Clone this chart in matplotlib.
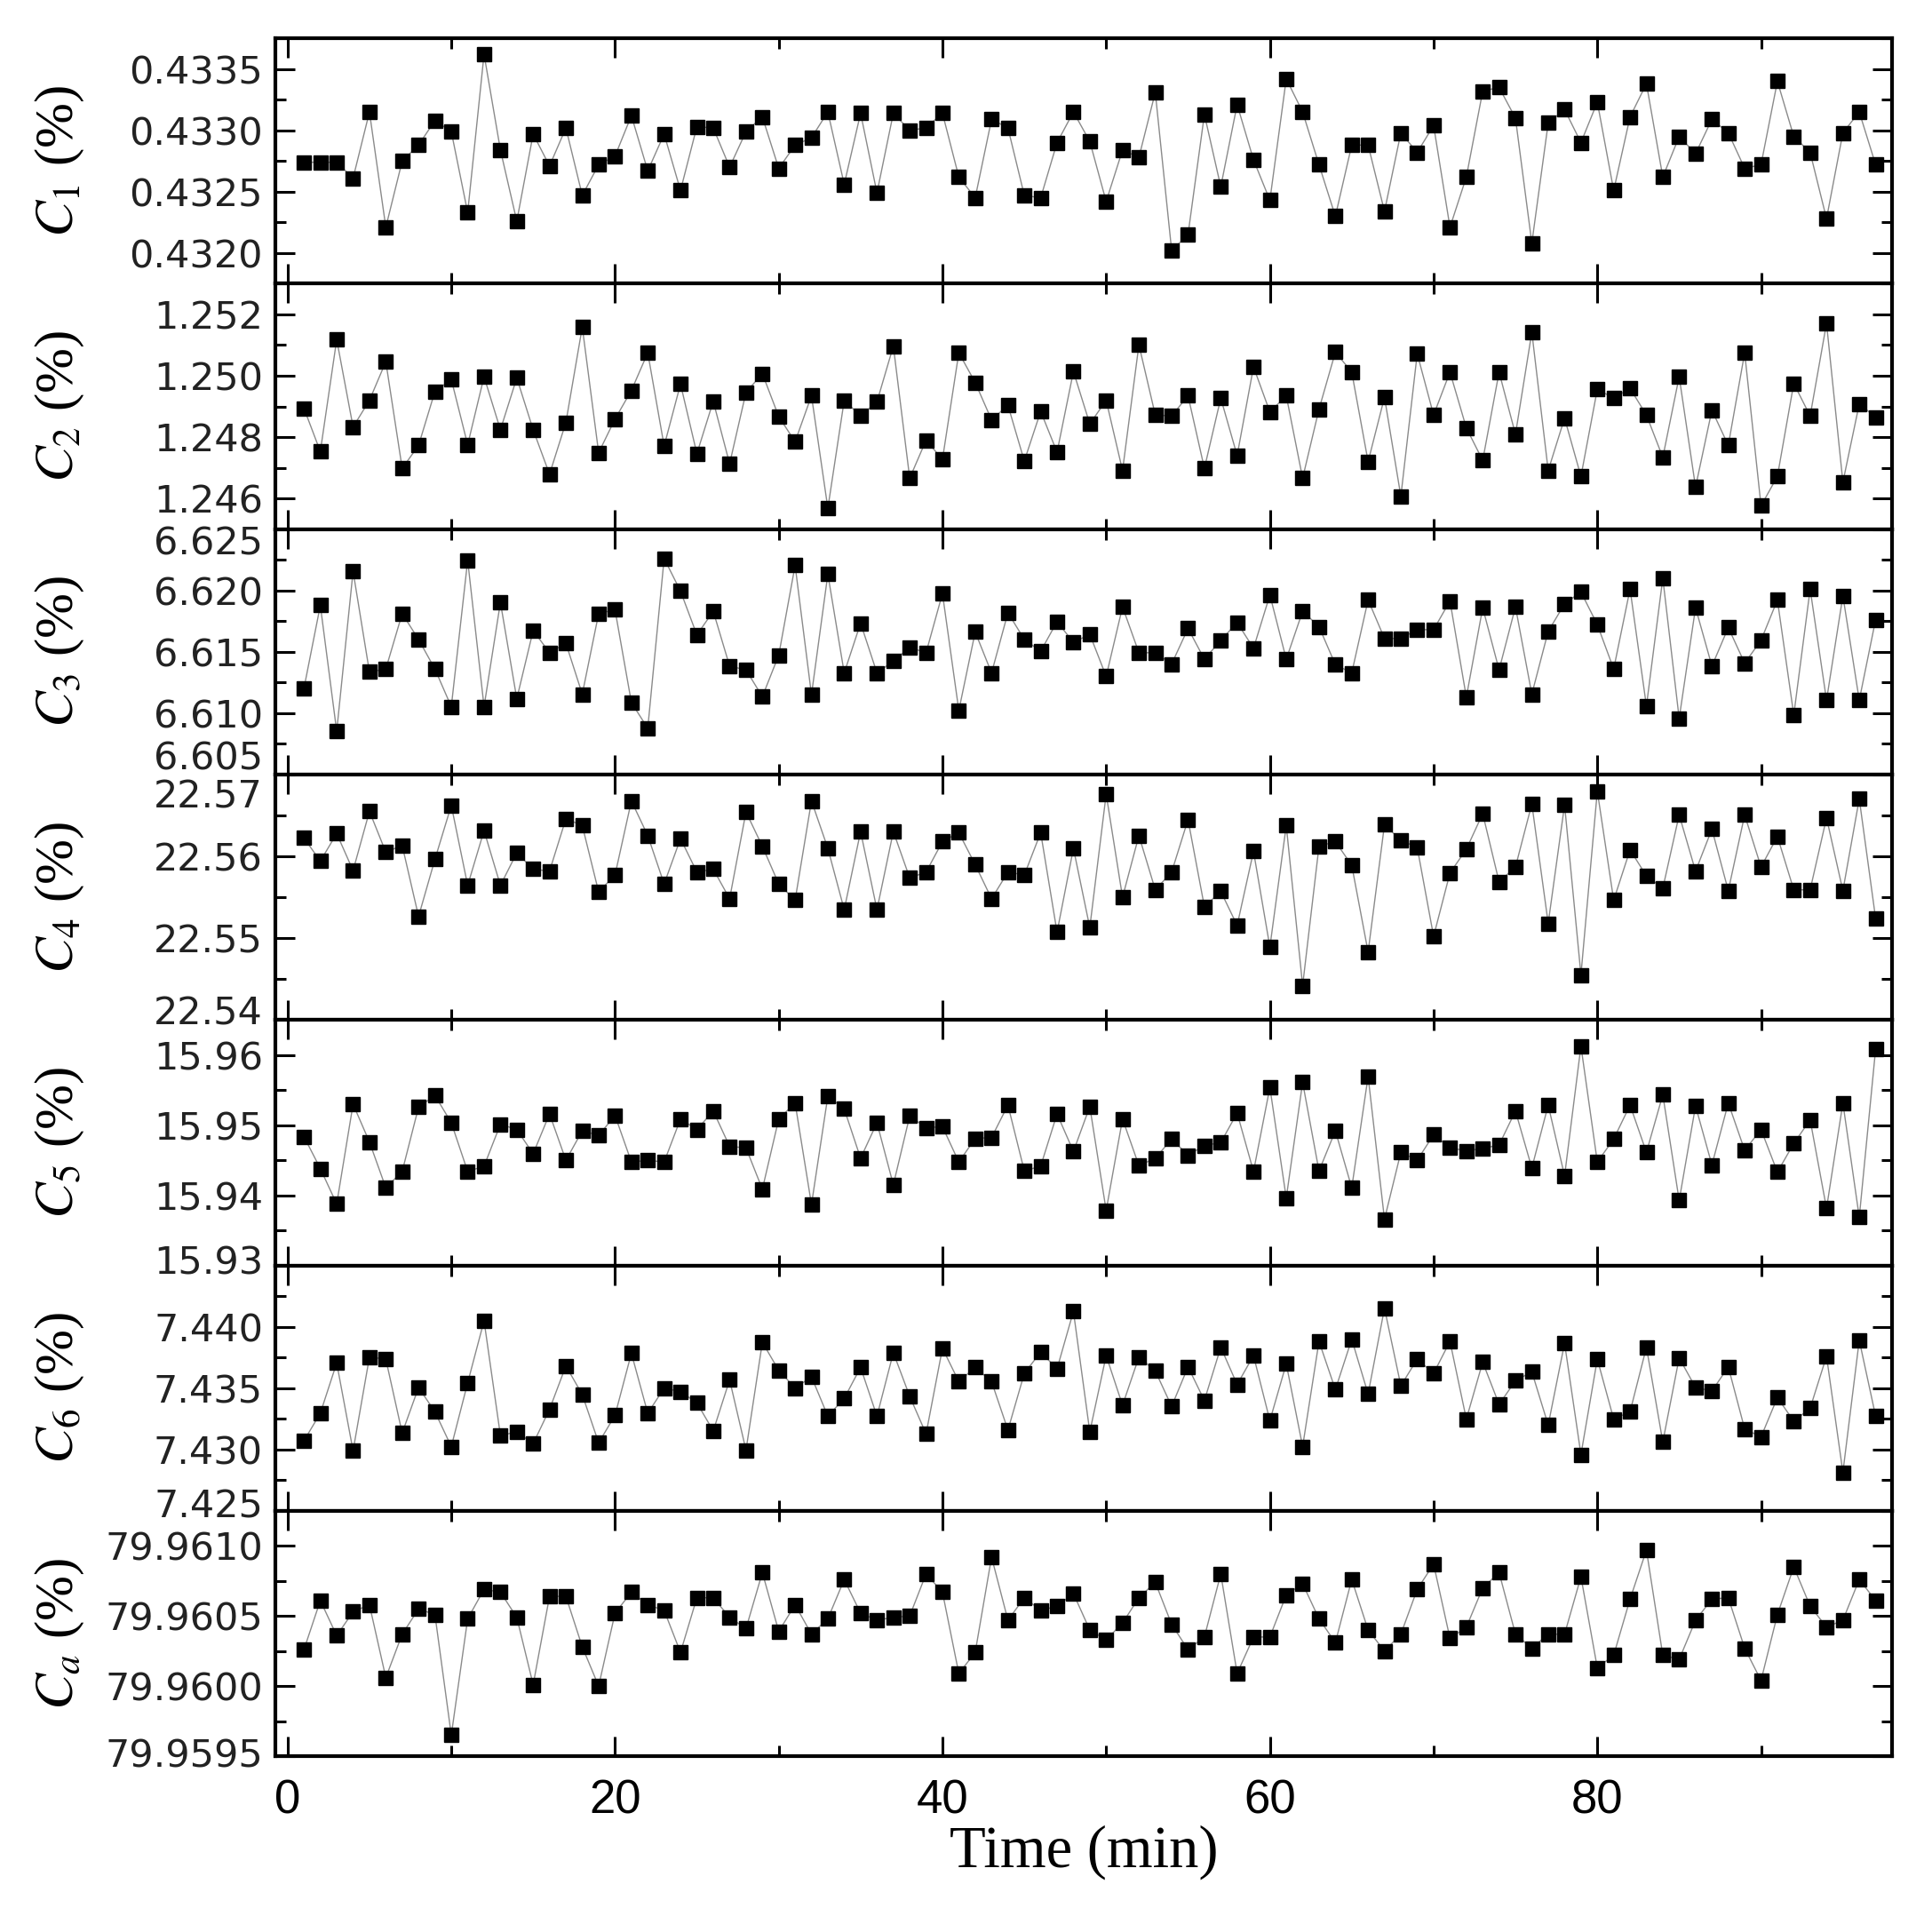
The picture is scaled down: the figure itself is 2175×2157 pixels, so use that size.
import matplotlib
matplotlib.use("Agg")
import matplotlib.pyplot as plt
from matplotlib.ticker import FixedLocator, MultipleLocator, FormatStrFormatter
from matplotlib.transforms import ScaledTranslation

# sampling times (min)
minutes = list(range(1, 98))

c1 = [0.43274, 0.43274, 0.43274, 0.43261, 0.43315, 0.43221, 0.43275, 0.43288, 0.43308, 0.43299,
      0.43233, 0.43362, 0.43284, 0.43226, 0.43297, 0.43271, 0.43302, 0.43247, 0.43272, 0.43279,
      0.43312, 0.43267, 0.43297, 0.43251, 0.43303, 0.43302, 0.43270, 0.43299, 0.43311, 0.43269,
      0.43288, 0.43294, 0.43315, 0.43256, 0.43314, 0.43249, 0.43314, 0.43300, 0.43302, 0.43314,
      0.43262, 0.43245, 0.43309, 0.43302, 0.43247, 0.43245, 0.43290, 0.43315, 0.43291, 0.43242,
      0.43284, 0.43278, 0.43331, 0.43202, 0.43215, 0.43313, 0.43254, 0.43321, 0.43276, 0.43243,
      0.43342, 0.43315, 0.43272, 0.43230, 0.43288, 0.43288, 0.43234, 0.43298, 0.43282, 0.43304,
      0.43221, 0.43262, 0.43332, 0.43335, 0.43310, 0.43208, 0.43306, 0.43317, 0.43290, 0.43323,
      0.43251, 0.43311, 0.43338, 0.43262, 0.43295, 0.43281, 0.43309, 0.43298, 0.43269, 0.43272,
      0.43340, 0.43295, 0.43282, 0.43228, 0.43298, 0.43315, 0.43272]

c2 = [1.24894, 1.24753, 1.25118, 1.24833, 1.24920, 1.25046, 1.24698, 1.24773, 1.24949, 1.24988,
      1.24775, 1.24997, 1.24824, 1.24993, 1.24824, 1.24679, 1.24848, 1.25159, 1.24749, 1.24859,
      1.24952, 1.25075, 1.24771, 1.24973, 1.24746, 1.24917, 1.24713, 1.24946, 1.25007, 1.24867,
      1.24785, 1.24935, 1.24568, 1.24920, 1.24869, 1.24915, 1.25097, 1.24666, 1.24790, 1.24727,
      1.25075, 1.24978, 1.24856, 1.24904, 1.24722, 1.24884, 1.24751, 1.25014, 1.24843, 1.24920,
      1.24691, 1.25101, 1.24872, 1.24869, 1.24935, 1.24698, 1.24927, 1.24740, 1.25029, 1.24882,
      1.24935, 1.24666, 1.24891, 1.25077, 1.25012, 1.24720, 1.24930, 1.24607, 1.25072, 1.24872,
      1.25012, 1.24830, 1.24724, 1.25012, 1.24809, 1.25142, 1.24691, 1.24862, 1.24672, 1.24956,
      1.24927, 1.24959, 1.24872, 1.24734, 1.24997, 1.24637, 1.24888, 1.24773, 1.25075, 1.24576,
      1.24672, 1.24975, 1.24869, 1.25171, 1.24653, 1.24908, 1.24865]

c3 = [6.61203, 6.61879, 6.60853, 6.62157, 6.61336, 6.61360, 6.61812, 6.61601, 6.61360, 6.61053,
      6.62246, 6.61053, 6.61903, 6.61118, 6.61674, 6.61493, 6.61570, 6.61155, 6.61812, 6.61843,
      6.61087, 6.60877, 6.62261, 6.61995, 6.61638, 6.61831, 6.61384, 6.61353, 6.61135, 6.61473,
      6.62205, 6.61150, 6.62133, 6.61328, 6.61734, 6.61328, 6.61425, 6.61536, 6.61493, 6.61976,
      6.61022, 6.61662, 6.61328, 6.61819, 6.61601, 6.61505, 6.61746, 6.61577, 6.61643, 6.61300,
      6.61867, 6.61493, 6.61493, 6.61401, 6.61691, 6.61440, 6.61594, 6.61739, 6.61529, 6.61964,
      6.61440, 6.61831, 6.61705, 6.61396, 6.61328, 6.61923, 6.61609, 6.61609, 6.61681, 6.61681,
      6.61915, 6.61130, 6.61860, 6.61353, 6.61867, 6.61155, 6.61667, 6.61891, 6.61988, 6.61722,
      6.61360, 6.62012, 6.61058, 6.62101, 6.60957, 6.61860, 6.61384, 6.61698, 6.61408, 6.61594,
      6.61923, 6.60985, 6.62012, 6.61106, 6.61957, 6.61106, 6.61763]

c4 = [22.56225, 22.55942, 22.56279, 22.55826, 22.56551, 22.56051, 22.56134, 22.55265, 22.55964, 22.56623,
      22.55645, 22.56315, 22.55645, 22.56043, 22.55844, 22.55819, 22.56460, 22.56377, 22.55565, 22.55772,
      22.56678, 22.56254, 22.55663, 22.56217, 22.55808, 22.55844, 22.55482, 22.56543, 22.56123, 22.55663,
      22.55464, 22.56678, 22.56098, 22.55348, 22.56304, 22.55348, 22.56304, 22.55736, 22.55808, 22.56181,
      22.56290, 22.55899, 22.55482, 22.55808, 22.55772, 22.56290, 22.55073, 22.56098, 22.55130, 22.56761,
      22.55500, 22.56254, 22.55591, 22.55808, 22.56449, 22.55384, 22.55572, 22.55156, 22.56062, 22.54891,
      22.56377, 22.54420, 22.56123, 22.56181, 22.55891, 22.54830, 22.56388, 22.56196, 22.56109, 22.55022,
      22.55797, 22.56087, 22.56522, 22.55688, 22.55870, 22.56641, 22.55181, 22.56630, 22.54551, 22.56797,
      22.55464, 22.56080, 22.55761, 22.55609, 22.56507, 22.55819, 22.56333, 22.55580, 22.56507, 22.55870,
      22.56243, 22.55591, 22.55591, 22.56471, 22.55580, 22.56703, 22.55239]

c5 = [15.94836, 15.94381, 15.93876, 15.95299, 15.94760, 15.94107, 15.94339, 15.95257, 15.95425, 15.95034,
      15.94339, 15.94415, 15.95013, 15.94937, 15.94592, 15.95160, 15.94499, 15.94920, 15.94853, 15.95139,
      15.94474, 15.94499, 15.94474, 15.95088, 15.94937, 15.95202, 15.94697, 15.94676, 15.94086, 15.95088,
      15.95316, 15.93867, 15.95413, 15.95232, 15.94528, 15.95034, 15.94149, 15.95131, 15.94962, 15.94979,
      15.94474, 15.94811, 15.94823, 15.95286, 15.94347, 15.94415, 15.95160, 15.94625, 15.95265, 15.93783,
      15.95088, 15.94423, 15.94528, 15.94802, 15.94571, 15.94709, 15.94752, 15.95173, 15.94339, 15.95539,
      15.93960, 15.95611, 15.94347, 15.94920, 15.94107, 15.95695, 15.93657, 15.94613, 15.94499, 15.94865,
      15.94676, 15.94634, 15.94667, 15.94718, 15.95202, 15.94389, 15.95286, 15.94276, 15.96128, 15.94474,
      15.94802, 15.95286, 15.94613, 15.95434, 15.93926, 15.95274, 15.94432, 15.95316, 15.94642, 15.94937,
      15.94331, 15.94739, 15.95076, 15.93813, 15.95316, 15.93686, 15.96086]

c6 = [7.43071, 7.43295, 7.43705, 7.42989, 7.43753, 7.43736, 7.43134, 7.43505, 7.43307, 7.43023,
      7.43543, 7.44049, 7.43114, 7.43143, 7.43047, 7.43327, 7.43681, 7.43447, 7.43054, 7.43278,
      7.43784, 7.43295, 7.43500, 7.43471, 7.43380, 7.43151, 7.43567, 7.42994, 7.43873, 7.43645,
      7.43500, 7.43592, 7.43271, 7.43416, 7.43669, 7.43271, 7.43789, 7.43433, 7.43127, 7.43825,
      7.43553, 7.43669, 7.43553, 7.43158, 7.43620, 7.43794, 7.43657, 7.44126, 7.43143, 7.43765,
      7.43360, 7.43753, 7.43640, 7.43351, 7.43673, 7.43399, 7.43833, 7.43529, 7.43765, 7.43235,
      7.43698, 7.43023, 7.43881, 7.43488, 7.43898, 7.43452, 7.44151, 7.43519, 7.43736, 7.43620,
      7.43881, 7.43247, 7.43712, 7.43367, 7.43560, 7.43633, 7.43199, 7.43866, 7.42958, 7.43736,
      7.43247, 7.43307, 7.43833, 7.43061, 7.43746, 7.43505, 7.43476, 7.43673, 7.43167, 7.43102,
      7.43423, 7.43230, 7.43336, 7.43760, 7.42813, 7.43890, 7.43271]

ca = [79.96026, 79.96061, 79.96036, 79.96053, 79.96058, 79.96006, 79.96037, 79.96055, 79.96051, 79.95965,
      79.96048, 79.96069, 79.96067, 79.96049, 79.96001, 79.96064, 79.96064, 79.96028, 79.96000, 79.96052,
      79.96067, 79.96058, 79.96054, 79.96024, 79.96063, 79.96063, 79.96049, 79.96041, 79.96081, 79.96039,
      79.96058, 79.96037, 79.96048, 79.96076, 79.96052, 79.96047, 79.96049, 79.96050, 79.96080, 79.96067,
      79.96009, 79.96024, 79.96092, 79.96047, 79.96063, 79.96054, 79.96057, 79.96066, 79.96040, 79.96033,
      79.96045, 79.96063, 79.96074, 79.96044, 79.96026, 79.96035, 79.96080, 79.96009, 79.96035, 79.96035,
      79.96065, 79.96073, 79.96048, 79.96031, 79.96076, 79.96040, 79.96025, 79.96037, 79.96069, 79.96087,
      79.96034, 79.96042, 79.96070, 79.96081, 79.96037, 79.96027, 79.96037, 79.96037, 79.96078, 79.96013,
      79.96022, 79.96062, 79.96097, 79.96022, 79.96019, 79.96047, 79.96062, 79.96063, 79.96027, 79.96004,
      79.96051, 79.96085, 79.96057, 79.96042, 79.96047, 79.96076, 79.96061]

labels = [r"$C_{1}$", r"$C_{2}$", r"$C_{3}$", r"$C_{4}$", r"$C_{5}$", r"$C_{6}$", r"$C_{a}$"]
series = [c1, c2, c3, c4, c5, c6, ca]
yticks = [[0.4320, 0.4325, 0.4330, 0.4335],
          [1.246, 1.248, 1.250, 1.252],
          [6.605, 6.610, 6.615, 6.620, 6.625],
          [22.54, 22.55, 22.56, 22.57],
          [15.93, 15.94, 15.95, 15.96],
          [7.425, 7.430, 7.435, 7.440],
          [79.9595, 79.9600, 79.9605, 79.9610]]
ylims = [(0.43175, 0.43375), (1.245, 1.253), (6.605, 6.625), (22.54, 22.57),
         (15.93, 15.965), (7.425, 7.445), (79.9595, 79.96125)]
yfmts = ["%.4f", "%.3f", "%.3f", "%.2f", "%.2f", "%.3f", "%.4f"]
# shift (px) of labels sitting on a panel edge: (top label down, bottom label up)
edge_shift = [(0, 0), (0, 0), (12, 22), (21, 11), (0, 7), (0, 9), (0, 4)]

plt.rcParams["mathtext.fontset"] = "stix"

fig, axes = plt.subplots(7, 1, figsize=(21.75, 21.57), dpi=100, sharex=True,
                         gridspec_kw=dict(hspace=0, left=0.1425, right=0.9793, top=0.980, bottom=0.0834))

for ax, lab, vals, ticks, (lo, hi), fmt in zip(axes, labels, series, yticks, ylims, yfmts):
    ax.plot(minutes, vals, "-", color="#8a8a8a", lw=1.0, zorder=2)
    ax.plot(minutes, vals, "s", color="black", ms=11, mec="black", zorder=3)
    eps = (hi - lo) * 1e-6
    ax.set_ylim(lo - eps, hi + eps)
    step = ticks[1] - ticks[0]
    ax.yaxis.set_major_locator(FixedLocator(ticks))
    ax.yaxis.set_minor_locator(MultipleLocator(step / 2))
    ax.yaxis.set_major_formatter(FormatStrFormatter(fmt))
    ax.set_xlim(-0.75, 98)
    ax.xaxis.set_major_locator(MultipleLocator(20))
    ax.xaxis.set_minor_locator(MultipleLocator(10))
    ax.tick_params(which="both", direction="in", top=True, right=True, width=2.2, color="black")
    ax.tick_params(which="major", length=16)
    ax.tick_params(which="minor", length=8.5)
    ax.tick_params(axis="y", labelsize=31, pad=10, labelcolor="#222222")
    for s in ax.spines.values():
        s.set_linewidth(3)
    ax.text(-0.1335, 0.5, lab + " (%)", transform=ax.transAxes, rotation=90,
            ha="center", va="center", fontsize=44, family="Liberation Serif")

axes[-1].tick_params(axis="x", labelsize=38, pad=18)
for t in axes[-1].get_xticklabels():
    t.set_family("Liberation Sans")
axes[-1].set_xlabel("Time (min)", fontsize=48, family="Liberation Serif", labelpad=2)

# nudge the tick labels that sit on panel edges, like the original
for ax, ticks, (lo, hi), (down, up) in zip(axes, yticks, ylims, edge_shift):
    for tick, val in zip(ax.yaxis.get_major_ticks(), ticks):
        tick.label1.set_family("DejaVu Sans")
        dy = 0
        if abs(val - hi) < 1e-9:
            dy = -down
        elif abs(val - lo) < 1e-9:
            dy = up
        if dy:
            tick.label1.set_transform(tick.label1.get_transform()
                                      + ScaledTranslation(0, dy / 100, fig.dpi_scale_trans))

fig.savefig("out.png", dpi=100)
